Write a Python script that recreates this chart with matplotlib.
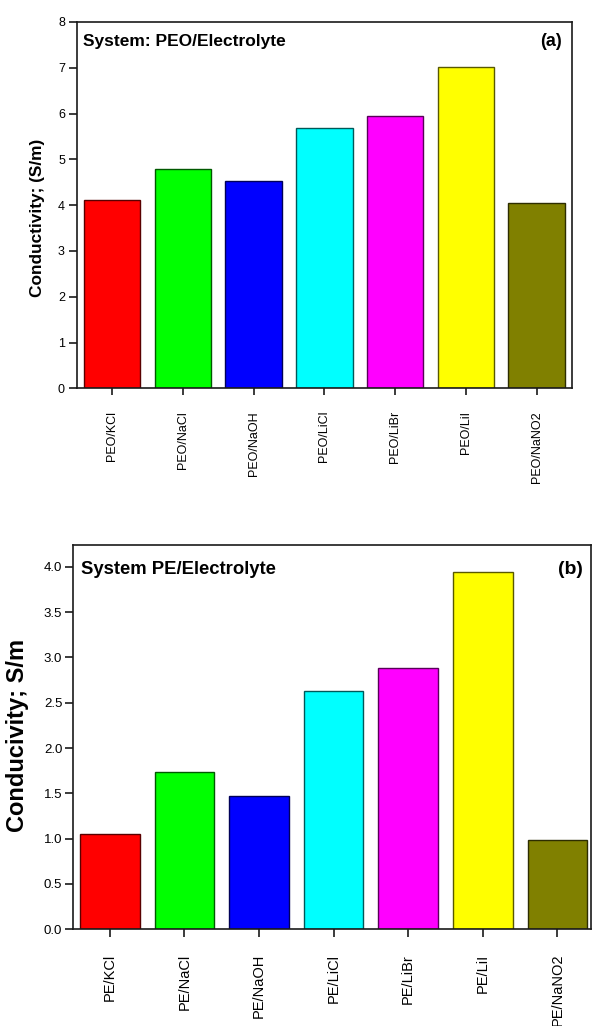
import matplotlib
matplotlib.use("Agg")
import matplotlib.pyplot as plt
import numpy as np
from matplotlib.colors import to_rgb

plt.rcParams['font.family'] = ['Liberation Sans', 'DejaVu Sans']

# Panel (a): PEO based systems
peo_labels = ["PEO/KCl", "PEO/NaCl", "PEO/NaOH", "PEO/LiCl", "PEO/LiBr", "PEO/LiI", "PEO/NaNO2"]
peo_values = [4.11, 4.79, 4.53, 5.69, 5.95, 7.01, 4.04]

# Panel (b): PE based systems
pe_labels = ["PE/KCl", "PE/NaCl", "PE/NaOH", "PE/LiCl", "PE/LiBr", "PE/LiI", "PE/NaNO2"]
pe_values = [1.055, 1.74, 1.47, 2.625, 2.886, 3.945, 0.98]

bar_colors = ["#ff0000", "#00ff00", "#0000ff", "#00ffff", "#ff00ff", "#ffff00", "#808000"]
edge_colors = [tuple(0.35 * c for c in to_rgb(col)) for col in bar_colors]

W, H = 592, 1026
fig = plt.figure(figsize=(W / 100, H / 100), dpi=100)


def px_axes(left, right, top, bottom):
    return fig.add_axes([left / W, 1 - bottom / H, (right - left) / W, (bottom - top) / H])


def style_axes(ax, tick_size, xlabel_size, xpad, tick_len_y, tick_len_x):
    for s in ax.spines.values():
        s.set_linewidth(1.2)
        s.set_color("#1a1a1a")
    ax.tick_params(axis="y", direction="out", length=tick_len_y, width=1.2,
                   labelsize=tick_size, pad=2.5, colors="#1a1a1a", labelcolor="black")
    ax.tick_params(axis="x", direction="out", length=tick_len_x, width=1.2,
                   labelsize=xlabel_size, pad=xpad, colors="#1a1a1a", labelcolor="black")
    ax.tick_params(axis="y", which="both", right=False)
    ax.tick_params(axis="x", which="both", top=False)


# ---- panel (a) ----
ax1 = px_axes(76.7, 572, 22, 388.3)
x1 = np.arange(len(peo_labels))
ax1.bar(x1, peo_values, width=0.8, color=bar_colors, edgecolor=edge_colors, linewidth=1.0)
ax1.set_xlim(-0.5, 6.5)
ax1.set_ylim(0, 8)
ax1.set_yticks(np.arange(0, 9, 1))
ax1.set_xticks(x1)
ax1.set_xticklabels(peo_labels, rotation=90)
style_axes(ax1, 9, 9, 11.3, 6, 5)
ax1.text(0.012, 0.934, "System: PEO/Electrolyte", transform=ax1.transAxes,
         fontsize=12.5, fontweight="bold", ha="left", va="baseline")
ax1.text(0.980, 0.934, "(a)", transform=ax1.transAxes,
         fontsize=13, fontweight="bold", ha="right", va="baseline")
fig.text(38 / W, 1 - 217.7 / H, "Conductivity; (S/m)", rotation=90,
         fontsize=12.4, fontweight="bold", ha="center", va="center")

# ---- panel (b) ----
ax2 = px_axes(73.3, 591, 545, 929.3)
x2 = np.arange(len(pe_labels))
ax2.bar(x2, pe_values, width=0.8, color=bar_colors, edgecolor=edge_colors, linewidth=1.0)
ax2.set_xlim(-0.49, 6.45)
ax2.set_ylim(0, 4.24)
ax2.set_yticks(np.arange(0, 4.01, 0.5))
ax2.set_yticklabels([f"{v:.1f}" for v in np.arange(0, 4.01, 0.5)])
ax2.set_xticks(x2)
ax2.set_xticklabels(pe_labels, rotation=90)
style_axes(ax2, 9.5, 10.5, 12.2, 5.5, 5.5)
ax2.text(0.015, 0.9245, "System PE/Electrolyte", transform=ax2.transAxes,
         fontsize=13.3, fontweight="bold", ha="left", va="baseline")
ax2.text(0.985, 0.9245, "(b)", transform=ax2.transAxes,
         fontsize=14, fontweight="bold", ha="right", va="baseline")
fig.text(18 / W, 1 - 735 / H, "Conducivity; S/m", rotation=90,
         fontsize=17, fontweight="bold", ha="center", va="center")

fig.savefig("out.png", dpi=100)
